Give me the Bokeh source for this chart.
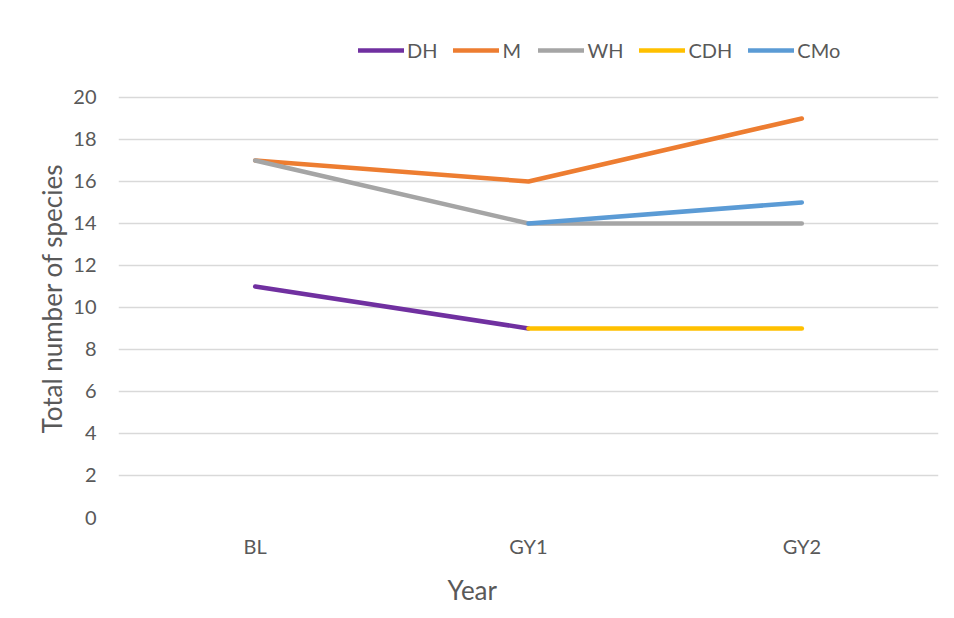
import numpy as np
from bokeh.plotting import figure
from bokeh.models import Legend, LegendItem, FixedTicker, Range1d, Title
from bokeh.embed import file_html
from bokeh.resources import INLINE

years = ["BL", "GY1", "GY2"]
series_names = ["DH", "M", "WH", "CDH", "CMo"]
dh = [11, 9, np.nan]
m = [17, 16, 19]
wh = [17, 14, 14]
cdh = [np.nan, 9, 9]
cmo = [np.nan, 14, 15]
colors = ["#7030a0", "#ed7d31", "#a5a5a5", "#ffc000", "#5b9bd5"]
y_ticks = list(range(0, 21, 2))
x_title = "Year"
y_title = "Total number of species"

FONT = "Lato"
TXT = "#595959"

# frame extends above 20 to leave room for the legend inside the plot area
p = figure(x_range=years, width=946, height=617, output_backend="svg",
           toolbar_location=None, min_border_left=118, min_border_right=8,
           min_border_top=35, min_border_bottom=100)
p.y_range = Range1d(0, 22.95)
p.outline_line_color = None
p.background_fill_color = "white"
p.border_fill_color = "white"

renderers = []
for name, vals, col in zip(series_names, [dh, m, wh, cdh, cmo], colors):
    r = p.line(years, vals, line_color=col, line_width=4.5, line_cap="round", line_join="round")
    renderers.append((name, r))

p.yaxis.ticker = FixedTicker(ticks=y_ticks)
p.xgrid.grid_line_color = None
p.ygrid.grid_line_color = "#d9d9d9"
p.ygrid.grid_line_width = 1.3
for ax in (p.xaxis, p.yaxis):
    ax.axis_line_color = None
    ax.major_tick_line_color = None
    ax.minor_tick_line_color = None
    ax.major_label_text_font = FONT
    ax.major_label_text_color = TXT
    ax.major_label_text_font_size = "20px"
p.yaxis.major_label_standoff = 16
p.xaxis.major_label_standoff = 10

yt = Title(text=y_title, align="left", offset=84, standoff=6,
           text_font=FONT, text_font_size="26px", text_font_style="normal",
           text_color=TXT, vertical_align="bottom")
p.add_layout(yt, "left")
xt = Title(text=x_title, align="left", offset=329, standoff=23,
           text_font=FONT, text_font_size="26px", text_font_style="normal",
           text_color=TXT)
p.add_layout(xt, "below")

legend = Legend(items=[LegendItem(label=n, renderers=[r]) for n, r in renderers],
                orientation="horizontal", location=(240, 455))
legend.border_line_color = None
legend.background_fill_alpha = 0
legend.padding = 0
legend.margin = 0
legend.spacing = 16
legend.glyph_width = 46
legend.glyph_height = 20
legend.label_standoff = 3
legend.label_text_font = FONT
legend.label_text_color = TXT
legend.label_text_font_size = "20px"
p.add_layout(legend, "center")

open("out.html", "w").write(file_html(p, INLINE))
